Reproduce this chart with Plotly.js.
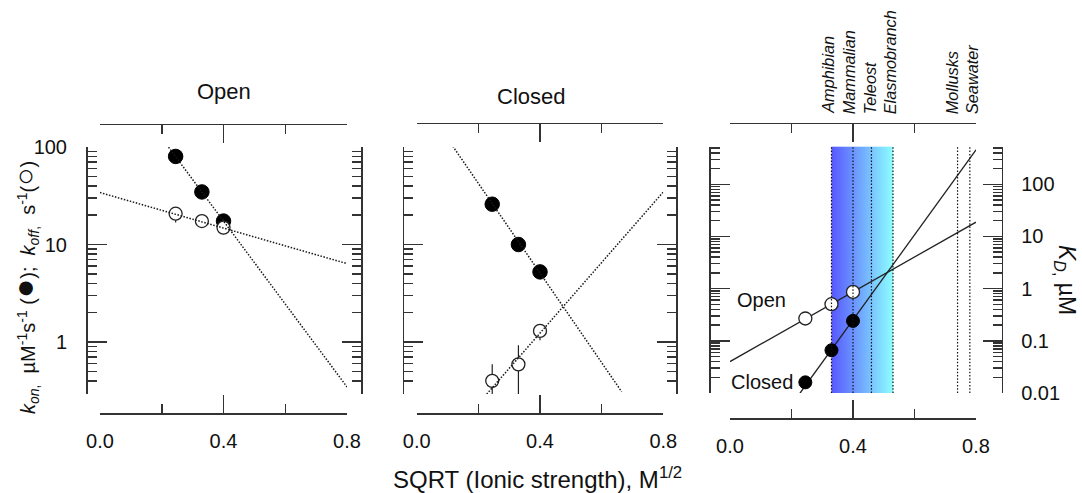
<!DOCTYPE html>
<html>
<head>
<meta charset="utf-8">
<script src="https://cdn.plot.ly/plotly-3.0.1.min.js"></script>
<style>html,body{margin:0;padding:0;background:#fff;}#chart{width:1082px;height:493px;}</style>
</head>
<body>
<div id="chart"></div>
<script>
// ---------------- data ----------------
const ionicX = [0.245, 0.33, 0.40];

// Open panel
const openKon = [80, 34.6, 17.4];
const openKonErrUp = [2, 1.5, 1.6];
const openKonErrDown = [2, 1.5, 1.5];
const openKoff = [20.7, 17.4, 14.9];
const openKoffErrUp = [3.4, 2.0, 3.2];
const openKoffErrDown = [3.9, 2.0, 2.2];
const openKonFitX = [0.216, 0.8];
const openKonFitY = [105.6, 0.346];
const openKoffFitX = [0.0, 0.8];
const openKoffFitY = [34.1, 6.37];

// Closed panel
const closedKon = [25.9, 10.0, 5.24];
const closedKonErrUp = [1.5, 0.6, 0.7];
const closedKonErrDown = [1.5, 0.6, 0.64];
const closedKoff = [0.40, 0.59, 1.30];
const closedKoffErrUp = [0.19, 0.335, 0.18];
const closedKoffErrDown = [0.15, 0.35, 0.26];
const closedKonFitX = [0.117, 0.665];
const closedKonFitY = [102, 0.309];
const closedKoffFitX = [0.227, 0.8];
const closedKoffFitY = [0.292, 34.6];

// KD panel
const kdOpen = [0.268, 0.503, 0.865];
const kdClosed = [0.016, 0.066, 0.241];
const kdOpenFitX = [0.0, 0.8];
const kdOpenFitY = [0.040, 18.8];
const kdClosedFitX = [0.2276, 0.8];
const kdClosedFitY = [0.0099, 457];

// physiological ionic strengths
const organisms = ['Amphibian', 'Mammalian', 'Teleost', 'Elasmobranch', 'Mollusks', 'Seawater'];
const organismX = [0.33, 0.40, 0.46, 0.53, 0.74, 0.78];

// ticks
const xTickVals = [0, 0.4, 0.8];
const xTickText = ['0.0', '0.4', '0.8'];
const xMinorVals = [0.2, 0.6];
const rateTickVals = [1, 10, 100];
const rateTickText = ['1', '10', '100'];
const kdTickVals = [0.01, 0.1, 1, 10, 100];
const kdTickText = ['0.01', '0.1', '1', '10', '100'];

// ---------------- styling helpers ----------------
const FONT = '"Liberation Sans", Arial, sans-serif';
const AX = '#333333';
const W = 1082, H = 493;
const px = v => v / W;
const py = v => 1 - v / H;
const labelShift = [-3.7, -3.7, -1.7, -2.7, -5.7, 1.7];

function logMinor(lo, hi) {
  const out = [];
  for (let k = -3; k <= 3; k++) {
    for (let d = 2; d <= 9; d++) {
      const v = d * Math.pow(10, k);
      if (v >= lo && v <= hi) out.push(+v.toPrecision(3));
    }
  }
  return out;
}

function xAxis(opts) {
  const a = {
    anchor: opts.anchor || 'free', side: opts.side,
    type: 'linear', range: [0, 0.8], autorange: false,
    showline: true, linecolor: AX, linewidth: 1.5,
    ticks: 'inside', ticklen: 18, tickwidth: 1.5, tickcolor: AX,
    tickmode: 'array', tickvals: xTickVals, ticktext: xTickText,
    showticklabels: !!opts.labels, ticklabelstandoff: 9,
    tickfont: {family: FONT, size: 20, color: '#111'},
    showgrid: false, zeroline: false, fixedrange: true,
    minor: {tickmode: 'array', tickvals: xMinorVals, ticks: 'inside', ticklen: 9, tickwidth: 1.5, tickcolor: AX, showgrid: false},
    domain: opts.domain
  };
  if (a.anchor === 'free') a.position = opts.pos;
  return a;
}

function yAxis(opts) {
  const a = {
    anchor: 'free', position: opts.pos, side: opts.side,
    type: 'log', range: opts.range, autorange: false,
    showline: true, linecolor: AX, linewidth: 1.5,
    ticks: 'inside', ticklen: 19, tickwidth: 1.5, tickcolor: AX,
    tickmode: 'array', tickvals: opts.tickvals, ticktext: opts.ticktext,
    showticklabels: !!opts.labels, ticklabelstandoff: opts.standoff || 14,
    tickfont: {family: FONT, size: 20, color: '#111'},
    showgrid: false, zeroline: false, fixedrange: true,
    minor: {tickmode: 'array', tickvals: opts.minor, ticks: 'inside', ticklen: 9, tickwidth: 1.5, tickcolor: AX, showgrid: false}
  };
  if (opts.domain) a.domain = opts.domain;
  if (opts.overlaying) a.overlaying = opts.overlaying;
  return a;
}

// axis that only carries tick labels
function yLabelAxis(overlaying, pos, range, tickvals, ticktext) {
  return {
    overlaying, anchor: 'free', position: pos, side: 'left',
    type: 'log', range, autorange: false, showline: false, ticks: '',
    tickmode: 'array', tickvals, ticktext, showticklabels: true, ticklabelstandoff: 0,
    tickfont: {family: FONT, size: 20, color: '#111'},
    showgrid: false, zeroline: false, fixedrange: true
  };
}

function stripAxis(domain) {
  return {domain: domain, anchor: 'free', position: 0, range: [0, 1], visible: false, fixedrange: true};
}

function err(up, down) {
  return {type: 'data', symmetric: false, array: up, arrayminus: down, width: 0, thickness: 1.2, color: '#222', visible: true};
}
function filled(x, y, xa, ya, e, size) {
  const t = {x, y, xaxis: xa, yaxis: ya, mode: 'markers', cliponaxis: true,
    marker: {symbol: 'circle', size: size || 14.5, color: '#000', line: {color: '#000', width: 1}}};
  if (e) t.error_y = e;
  return t;
}
function open(x, y, xa, ya, e, size) {
  const t = {x, y, xaxis: xa, yaxis: ya, mode: 'markers', cliponaxis: true,
    marker: {symbol: 'circle', size: size || 13, color: '#fff', line: {color: '#222', width: 1.3}}};
  if (e) t.error_y = e;
  return t;
}
function fit(x, y, xa, ya, dash) {
  return {x, y, xaxis: xa, yaxis: ya, mode: 'lines', cliponaxis: true,
    line: {color: dash ? '#1a1a1a' : '#222', width: dash ? 1.5 : 1.3, dash: dash ? '1.5px,1.6px' : 'solid'}};
}
const dummy = (xa, ya) => ({x: [], y: [], xaxis: xa, yaxis: ya, mode: 'markers', hoverinfo: 'skip'});

// ---------------- traces ----------------
const traces = [
  // Open panel
  filled(ionicX, openKon, 'x', 'y', err(openKonErrUp, openKonErrDown)),
  open(ionicX, openKoff, 'x', 'y', err(openKoffErrUp, openKoffErrDown)),
  fit(openKonFitX, openKonFitY, 'x', 'y', true),
  fit(openKoffFitX, openKoffFitY, 'x', 'y', true),
  // Closed panel
  filled(ionicX, closedKon, 'x2', 'y2', err(closedKonErrUp, closedKonErrDown)),
  open(ionicX, closedKoff, 'x2', 'y2', err(closedKoffErrUp, closedKoffErrDown)),
  fit(closedKonFitX, closedKonFitY, 'x2', 'y2', true),
  fit(closedKoffFitX, closedKoffFitY, 'x2', 'y2', true),
  // KD panel
  fit(kdOpenFitX, kdOpenFitY, 'x3', 'y3', false),
  fit(kdClosedFitX, kdClosedFitY, 'x3', 'y3', false),
  open(ionicX, kdOpen, 'x3', 'y3', null, 13),
  filled(ionicX, kdClosed, 'x3', 'y3', null, 13),
  // frame axes: top (anchored to thin hidden strips), right (overlays), label axis
  dummy('x4', 'y7'), dummy('x5', 'y8'), dummy('x6', 'y9'),
  dummy('x', 'y4'), dummy('x2', 'y5'), dummy('x3', 'y6'), dummy('x', 'y10')
];

// ---------------- layout ----------------
const rateRange = [-0.533, 2];
const kdRange = [-2, 2.72];
const rateMinor = logMinor(0.25, 100);
const kdMinor = logMinor(0.01, 600);

const d1x = [px(100), px(347)], d2x = [px(416.7), px(663.3)], d3x = [px(730), px(976)];
const d12y = [py(394), py(147)], d3y = [py(393), py(146.7)];

// gradient band image
const cv = document.createElement('canvas');
cv.width = 256; cv.height = 4;
const cx = cv.getContext('2d');
const gr = cx.createLinearGradient(0, 0, 256, 0);
gr.addColorStop(0, 'rgb(88,88,255)');
gr.addColorStop(1, 'rgb(140,255,255)');
cx.fillStyle = gr; cx.fillRect(0, 0, 256, 4);
const bandSrc = cv.toDataURL('image/png');

const shapes = organismX.map(v => ({
  type: 'line', xref: 'x3', yref: 'y3 domain', x0: v, x1: v, y0: 0, y1: 1,
  line: {color: '#111', width: 1.2, dash: '1.5px,1.8px'}, layer: 'above'
}));

const tf = (size, extra) => Object.assign({family: FONT, size: size, color: '#111'}, extra || {});
const ann = (text, x, y, size, extra) => Object.assign({text, x: px(x), y: py(y), xref: 'paper', yref: 'paper',
  xanchor: 'center', yanchor: 'middle', showarrow: false, font: tf(size)}, extra || {});

const annotations = [
  ann('Open', 224, 92, 22),
  ann('Closed', 531, 96, 22),
  ann('SQRT (Ionic strength), M<sup>1/2</sup>', 537, 478, 24),
  ann('<i>k</i><sub><i>on</i>,</sub>  µM<sup>-1</sup>s<sup>-1</sup> (<span style="font-size:32px">●</span>);  <i>k</i><sub><i>off</i>,</sub>  s<sup>-1</sup>(<span style="font-size:30px">○</span>)',
      24, 288, 20, {textangle: -90}),
  ann('<i>K</i><sub><i>D</i>,</sub> µM', 1066, 280, 23, {textangle: 90}),
  ann('Open', 761.7, 300, 20),
  ann('Closed', 761.7, 381.7, 20)
].concat(organisms.map((name, i) => ({
  text: '<i>' + name + '</i>', x: organismX[i], xref: 'x3', y: py(116), yref: 'paper',
  xanchor: 'center', yanchor: 'bottom', xshift: labelShift[i], textangle: -90, showarrow: false, font: tf(16.3)
})));

const layout = {
  width: W, height: H,
  margin: {l: 0, r: 0, t: 0, b: 0, pad: 0},
  paper_bgcolor: '#fff', plot_bgcolor: 'rgba(0,0,0,0)',
  showlegend: false,
  font: {family: FONT, color: '#111'},
  // bottom x axes
  xaxis:  xAxis({domain: d1x, pos: py(413), side: 'bottom', labels: true}),
  xaxis2: xAxis({domain: d2x, pos: py(413), side: 'bottom', labels: true}),
  xaxis3: xAxis({domain: d3x, pos: py(418), side: 'bottom', labels: true}),
  // top x axes, anchored to hidden strips
  xaxis4: xAxis({domain: d1x, anchor: 'y7', side: 'top', labels: false}),
  xaxis5: xAxis({domain: d2x, anchor: 'y8', side: 'top', labels: false}),
  xaxis6: xAxis({domain: d3x, anchor: 'y9', side: 'top', labels: false}),
  yaxis7: stripAxis([py(147), py(125)]),
  yaxis8: stripAxis([py(146.7), py(124)]),
  yaxis9: stripAxis([py(146.7), py(124)]),
  // left y axes
  yaxis:  yAxis({domain: d12y, pos: px(86), side: 'left', labels: false, range: rateRange, tickvals: rateTickVals, ticktext: rateTickText, minor: rateMinor}),
  yaxis10: yLabelAxis('y', px(67), rateRange, rateTickVals, rateTickText),
  yaxis2: yAxis({domain: d12y, pos: px(402.7), side: 'left', labels: false, range: rateRange, tickvals: rateTickVals, ticktext: rateTickText, minor: rateMinor}),
  yaxis3: yAxis({domain: d3y, pos: px(709.3), side: 'left', labels: false, range: kdRange, tickvals: kdTickVals, ticktext: kdTickText, minor: kdMinor}),
  // right y axes (overlays)
  yaxis4: yAxis({overlaying: 'y', pos: px(361), side: 'right', labels: false, range: rateRange, tickvals: rateTickVals, ticktext: rateTickText, minor: rateMinor}),
  yaxis5: yAxis({overlaying: 'y2', pos: px(676), side: 'right', labels: false, range: rateRange, tickvals: rateTickVals, ticktext: rateTickText, minor: rateMinor}),
  yaxis6: yAxis({overlaying: 'y3', pos: px(1001.7), side: 'right', labels: true, standoff: 14, range: kdRange, tickvals: kdTickVals, ticktext: kdTickText, minor: kdMinor}),
  images: [{
    source: bandSrc, xref: 'x3', yref: 'paper',
    x: organismX[0], sizex: organismX[3] - organismX[0],
    y: d3y[1], sizey: d3y[1] - d3y[0],
    xanchor: 'left', yanchor: 'top', sizing: 'stretch', layer: 'below'
  }],
  shapes: shapes,
  annotations: annotations
};

Plotly.newPlot('chart', traces, layout, {staticPlot: true, displayModeBar: false});
</script>
</body>
</html>
